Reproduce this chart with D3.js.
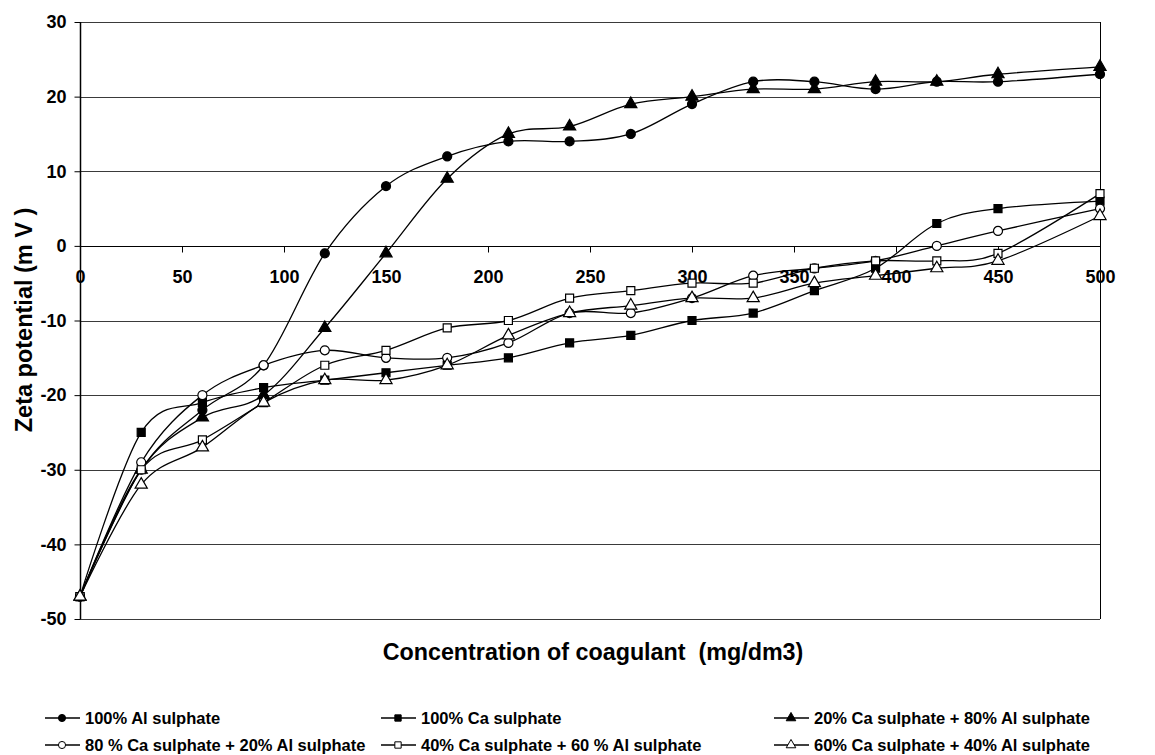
<!DOCTYPE html>
<html>
<head>
<meta charset="utf-8">
<script src="https://cdn.jsdelivr.net/npm/d3@7/dist/d3.min.js"></script>
<style>
  body { margin: 0; background: #fff; }
  svg { display: block; font-family: Arial, "Liberation Sans", sans-serif; font-weight: bold; }
  .tick text { font-size: 18px; font-weight: bold; fill: #000; font-family: Arial, "Liberation Sans", sans-serif; }
  .tick line { stroke: #000; }
</style>
</head>
<body>
<div id="chart"></div>
<script>
/*
 * Globals: d3
 */
var concentrations = [0, 30, 60, 90, 120, 150, 180, 210, 240, 270, 300, 330, 360, 390, 420, 450, 500];
var xTicks = [0, 50, 100, 150, 200, 250, 300, 350, 400, 450, 500];
var yTicks = [-50, -40, -30, -20, -10, 0, 10, 20, 30];

var seriesNames = [
  '100% Al sulphate',
  '100% Ca sulphate',
  '20% Ca sulphate + 80% Al sulphate',
  '80 % Ca sulphate + 20% Al sulphate',
  '40% Ca sulphate + 60 % Al sulphate',
  '60% Ca sulphate + 40% Al sulphate'
];

// zeta potential (mV), one value per concentration
var al100 = [-47, -30, -22, -16, -1, 8, 12, 14, 14, 15, 19, 22, 22, 21, 22, 22, 23];
var ca100 = [-47, -25, -21, -19, -18, -17, -16, -15, -13, -12, -10, -9, -6, -3, 3, 5, 6];
var ca20al80 = [-47, -30, -23, -20, -11, -1, 9, 15, 16, 19, 20, 21, 21, 22, 22, 23, 24];
var ca80al20 = [-47, -29, -20, -16, -14, -15, -15, -13, -9, -9, -7, -4, -3, -2, 0, 2, 5];
var ca40al60 = [-47, -30, -26, -21, -16, -14, -11, -10, -7, -6, -5, -5, -3, -2, -2, -1, 7];
var ca60al40 = [-47, -32, -27, -21, -18, -18, -16, -12, -9, -8, -7, -7, -5, -4, -3, -2, 4];

var seriesValues = [al100, ca100, ca20al80, ca80al20, ca40al60, ca60al40];
var markerShapes = ['circle', 'square', 'triangle', 'circle', 'square', 'triangle'];
var markerFilled = [true, true, true, false, false, false];

(function() {
  var width = 1155;
  var height = 755;
  var margin = { top: 22, right: 55, bottom: 136, left: 80 };
  var plotWidth = width - margin.left - margin.right;
  var plotHeight = height - margin.top - margin.bottom;

  var svg = d3.select('#chart').append('svg')
    .attr('width', width)
    .attr('height', height);

  var x = d3.scaleLinear().domain([0, 500]).range([margin.left, margin.left + plotWidth]);
  var y = d3.scaleLinear().domain([-50, 30]).range([margin.top + plotHeight, margin.top]);

  var symbolTypes = {
    circle: d3.symbolCircle,
    square: d3.symbolSquare,
    triangle: d3.symbolTriangle
  };

  /*
   * Gridlines and frame
   */
  svg.append('g').attr('class', 'grid')
    .selectAll('line')
    .data(yTicks)
    .enter().append('line')
    .attr('x1', x(0))
    .attr('x2', x(500))
    .attr('y1', function(d) { return Math.round(y(d)) + 0.5; })
    .attr('y2', function(d) { return Math.round(y(d)) + 0.5; })
    .attr('stroke', function(d) { return d === 0 ? '#000' : '#3a3a3a'; })
    .attr('stroke-width', 1);

  svg.append('line')
    .attr('x1', Math.round(x(500)) + 0.5)
    .attr('x2', Math.round(x(500)) + 0.5)
    .attr('y1', y(30))
    .attr('y2', y(-50))
    .attr('stroke', '#000');

  svg.append('line')
    .attr('x1', Math.round(x(0)) + 0.5)
    .attr('x2', Math.round(x(0)) + 0.5)
    .attr('y1', y(30))
    .attr('y2', y(-50))
    .attr('stroke', '#000')
    .attr('stroke-width', 1.5);

  /*
   * Axes: x axis crosses at zero, plain hyphen minus signs
   */
  var xAxis = d3.axisBottom(x)
    .tickValues(xTicks)
    .tickFormat(function(d) { return String(d); })
    .tickSizeInner(6)
    .tickSizeOuter(0)
    .tickPadding(18);

  svg.append('g')
    .attr('class', 'x-axis')
    .attr('transform', 'translate(0,' + (Math.round(y(0)) + 0.5) + ')')
    .call(xAxis)
    .call(function(g) { g.select('.domain').remove(); });

  var yAxis = d3.axisLeft(y)
    .tickValues(yTicks)
    .tickFormat(function(d) { return String(d); })
    .tickSizeInner(6)
    .tickSizeOuter(0)
    .tickPadding(8);

  svg.append('g')
    .attr('class', 'y-axis')
    .attr('transform', 'translate(' + (Math.round(x(0)) + 0.5) + ',0)')
    .call(yAxis)
    .call(function(g) { g.select('.domain').remove(); });

  /*
   * Series: smoothed lines with markers
   */
  var line = d3.line()
    .x(function(d, i) { return x(concentrations[i]); })
    .y(function(d) { return y(d); })
    .curve(d3.curveCatmullRom.alpha(0));

  seriesValues.forEach(function(values) {
    svg.append('path')
      .datum(values)
      .attr('d', line)
      .attr('fill', 'none')
      .attr('stroke', '#000')
      .attr('stroke-width', 1.3);
  });

  seriesValues.forEach(function(values, s) {
    var marker = d3.symbol().type(symbolTypes[markerShapes[s]]).size(64);
    svg.append('g')
      .selectAll('path')
      .data(values)
      .enter().append('path')
      .attr('d', marker)
      .attr('transform', function(d, i) {
        return 'translate(' + x(concentrations[i]) + ',' + y(d) + ')';
      })
      .attr('fill', markerFilled[s] ? '#000' : '#fff')
      .attr('stroke', '#000')
      .attr('stroke-width', 1.2);
  });

  /*
   * Axis titles
   */
  svg.append('text')
    .attr('x', 593)
    .attr('y', 660)
    .attr('text-anchor', 'middle')
    .style('font-size', '23.3px')
    .style('white-space', 'pre')
    .text('Concentration of coagulant  (mg/dm3)');

  svg.append('text')
    .attr('transform', 'translate(32,320) rotate(-90)')
    .attr('text-anchor', 'middle')
    .style('font-size', '23.5px')
    .style('white-space', 'pre')
    .text('Zeta potential (m V )');

  /*
   * Legend: two rows, three columns
   */
  var legendCols = [45, 381, 774];
  var legendRows = [718, 745];
  var legend = svg.append('g').attr('class', 'legend');

  seriesNames.forEach(function(name, s) {
    var lx = legendCols[s % 3];
    var ly = legendRows[Math.floor(s / 3)];
    var item = legend.append('g');
    item.append('line')
      .attr('x1', lx)
      .attr('x2', lx + 35)
      .attr('y1', ly)
      .attr('y2', ly)
      .attr('stroke', '#000')
      .attr('stroke-width', 1.3);
    item.append('path')
      .attr('d', d3.symbol().type(symbolTypes[markerShapes[s]]).size(40))
      .attr('transform', 'translate(' + (lx + 17) + ',' + ly + ')')
      .attr('fill', markerFilled[s] ? '#000' : '#fff')
      .attr('stroke', '#000');
    item.append('text')
      .attr('x', lx + 40)
      .attr('y', ly + 6)
      .style('font-size', '16.5px')
      .text(name);
  });
})();
</script>
</body>
</html>
